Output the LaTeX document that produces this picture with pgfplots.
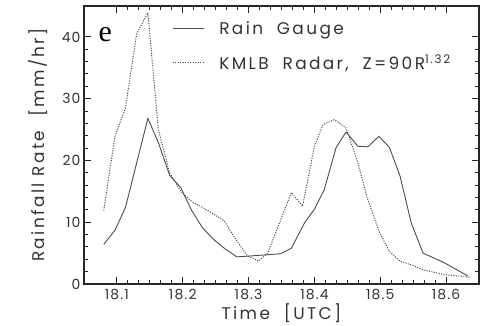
\documentclass[border=0pt]{standalone}
\usepackage{fontspec}
\setmainfont{Poppins}[LetterSpace=8]
\newfontfamily\legfont{Poppins}[LetterSpace=14]
\newfontfamily\seriffont{Liberation Serif}
\usepackage{pgfplots}
\pgfplotsset{compat=1.18}
\begin{document}
\begin{tikzpicture}
\begin{axis}[name=ax, scale only axis, width=395bp, height=278bp,
  xmin=18.05, xmax=18.65, ymin=0, ymax=45,
  xtick={18.1,18.2,18.3,18.4,18.5,18.6},
  xticklabels={18.1,18.2,18.3,18.4,18.5,18.6},
  ytick={0,10,20,30,40},
  yticklabels={0,10,20,30,40},
  minor x tick num=5, minor y tick num=4,
  tick align=inside, major tick length=7bp, minor tick length=4bp,
  every tick/.style={black!85, line width=1pt},
  axis line style={black!85, line width=1.3pt},
  /pgf/number format/assume math mode=true,
  tick label style={font=\fontsize{14}{16}\selectfont, text=black!80},
  xticklabel style={yshift=-2bp},
  label style={font=\legfont\fontsize{17}{19}\selectfont, text=black!80},
  xlabel={Time\ \ [UTC]}, ylabel={Rainfall\ Rate\ \ [mm/hr]},
  xlabel style={at={(axis description cs:0.5,-0.104)}, anchor=center},
  ylabel style={at={(axis description cs:-0.1165,0.5)}, anchor=center},
  legend style={at={(0.223,0.953)}, anchor=north west, draw=none, fill=none,
    font=\legfont\fontsize{17}{21}\selectfont, text=black!80, row sep=15bp,
    inner sep=0pt},
  legend cell align=left,
  legend image code/.code={\draw[#1] (0bp,0bp) -- (31bp,0bp);},
  clip=false,
]
\addplot[black!70, line width=0.9pt] coordinates {
(18.080,6.4) (18.097,8.7) (18.113,12.4) (18.147,26.8) (18.163,22.9)
(18.180,17.6) (18.197,15.6) (18.213,12.0) (18.230,9.1) (18.247,7.2)
(18.263,5.8) (18.282,4.4) (18.298,4.5) (18.349,4.9) (18.365,5.8)
(18.385,9.9) (18.400,12.1) (18.415,15.3) (18.433,22.1) (18.448,24.6)
(18.466,22.3) (18.481,22.2) (18.498,23.9) (18.514,22.1) (18.530,17.5)
(18.547,9.9) (18.565,5.0) (18.598,3.4) (18.633,1.3)
};
\addlegendentry{\hspace*{13bp}Rain\ \ Gauge}
\addplot[black!70, line width=1pt, dash pattern=on 1.1pt off 1.4pt] coordinates {
(18.080,11.9) (18.097,23.9) (18.113,28.5) (18.130,40.5) (18.147,43.9)
(18.163,25.0) (18.180,18.0) (18.197,15.0) (18.213,13.4) (18.230,12.4)
(18.247,11.3) (18.263,10.2) (18.282,7.0) (18.298,4.6) (18.315,3.7)
(18.329,5.0) (18.365,14.8) (18.382,12.6) (18.400,22.3) (18.413,25.8)
(18.430,26.6) (18.448,25.3) (18.466,19.6) (18.481,13.7) (18.499,8.3)
(18.514,5.3) (18.530,3.7) (18.547,3.1) (18.565,2.3) (18.598,1.5)
(18.638,1.1)
};
\addlegendentry{\hspace*{13bp}KMLB\ \ Radar,\ \ Z=90R\textsuperscript{1.32}}
\node[font=\seriffont\fontsize{30}{30}\selectfont, anchor=base west] at (axis cs:18.067,39.2) {e};
\end{axis}
\pgfresetboundingbox
\path[use as bounding box] (ax.south west) ++(-84bp,-42bp) rectangle ([shift={(16bp,6bp)}]ax.north east);
\end{tikzpicture}
\end{document}
